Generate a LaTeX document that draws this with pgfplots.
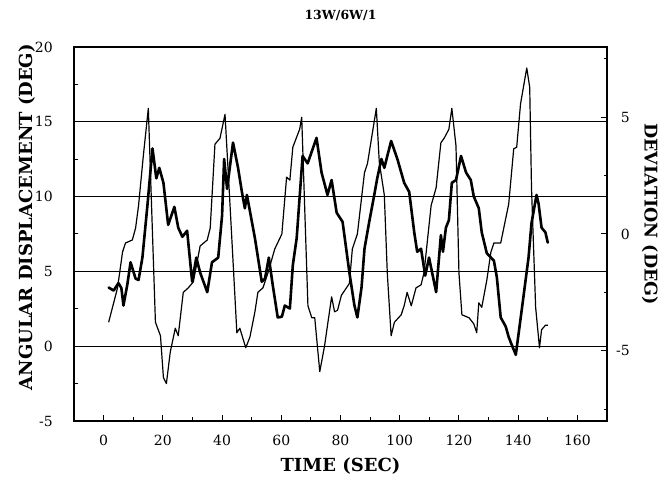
\documentclass[border=0pt]{standalone}
\usepackage{pgfplots}
\pgfplotsset{compat=1.18}
\usepackage{fontspec}
\setmainfont{DejaVu Serif}

\begin{document}
\begin{tikzpicture}
\useasboundingbox (-74pt,-66pt) rectangle (595pt,421pt);
\begin{axis}[
  at={(0,0)}, anchor=south west,
  scale only axis, width=533pt, height=374pt,
  xmin=-10, xmax=170, ymin=-5, ymax=20,
  xtick={0,20,...,160}, minor xtick={10,30,...,150},
  ytick={-5,0,...,20}, minor ytick={-2.5,2.5,...,17.5},
  tick align=inside, xtick pos=left, ytick pos=left,
  major tick length=6pt, minor tick length=3.5pt,
  ymajorgrids, grid style={black, line width=0.8pt},
  axis line style={line width=1.5pt},
  tick style={black, line width=1pt},
  /pgf/number format/assume math mode=true,
  tick label style={font=\fontsize{14}{16}\selectfont},
  yticklabel style={anchor=east, inner sep=0pt, xshift=-21pt},
  xticklabel style={anchor=center, inner sep=0pt, yshift=-19pt},
  title={13W/6W/1},
  every axis title/.style={at={(axis description cs:0.5,1.0856)}, anchor=center, font=\bfseries\fontsize{12.5}{14}\selectfont},
  xlabel={TIME (SEC)},
  every axis x label/.style={at={(axis description cs:0.5,-0.1203)}, anchor=center, font=\bfseries\fontsize{18}{20}\selectfont},
  ylabel={ANGULAR DISPLACEMENT (DEG)},
  every axis y label/.style={at={(axis description cs:-0.0882,0.545)}, anchor=center, rotate=90, font=\bfseries\fontsize{18}{20}\selectfont},
]
\addplot[black, line width=1.2pt, line join=round] coordinates {
(1.7,1.6) (3.4,2.9) (4.7,3.9) (6.4,6.3) (7.4,6.9) (9.7,7.1) (10.8,7.9) (11.8,9.4) (13.4,12.7) (15.1,15.9)
(17.5,1.6) (19.2,0.7) (20.2,-2.1) (21.2,-2.5) (22.5,-0.4) (24.2,1.2) (25.2,0.7) (26.9,3.6) (28.6,3.9) (30.3,4.3)
(32.6,6.7) (35.0,7.1) (36.0,7.9) (37.6,13.5) (39.3,13.9) (41.0,15.5) (42.7,9.4) (45.0,0.9) (46.0,1.2) (48.0,-0.1)
(49.4,0.6) (51.1,2.3) (52.1,3.6) (53.8,3.9) (55.5,4.9) (57.8,6.5) (60.2,7.5) (61.8,11.3) (62.9,11.1) (63.9,13.3)
(66.2,14.5) (66.9,15.3) (69.0,2.7) (70.3,1.9) (71.3,1.9) (73.0,-1.7) (74.6,0.0) (77.0,3.3) (78.0,2.3) (79.0,2.4)
(80.3,3.4) (82.0,3.9) (83.0,4.2) (84.0,6.5) (85.7,7.5) (88.1,11.6) (89.1,12.2) (92.1,15.9) (93.1,12.3) (94.8,10.1)
(95.8,4.9) (97.1,0.7) (98.2,1.6) (100.5,2.1) (101.5,2.7) (102.5,3.6) (103.9,2.7) (105.5,3.9) (107.2,4.1) (108.2,4.9)
(110.6,9.4) (112.3,10.6) (113.9,13.6) (115.0,13.9) (116.6,14.5) (117.6,15.9) (119.0,13.4) (120.0,4.9) (121.0,2.1) (123.4,1.9)
(125.0,1.5) (126.0,0.9) (126.7,2.9) (127.7,2.6) (129.4,4.4) (130.8,6.3) (131.8,6.9) (134.1,6.9) (136.8,9.5) (138.5,13.2)
(139.5,13.3) (140.8,16.2) (142.9,18.6) (143.9,17.3) (144.5,10.6) (145.9,2.6) (147.2,-0.1) (147.9,1.1) (149.2,1.4) (150.0,1.4)
};
\end{axis}
\begin{axis}[
  at={(0,0)}, anchor=south west,
  scale only axis, width=533pt, height=374pt,
  xmin=-10, xmax=170, ymin=-8, ymax=8,
  axis x line=none, axis y line*=right,
  ytick={-5,0,5}, minor ytick={-7.5,-2.5,2.5,7.5},
  tick align=inside,
  major tick length=6pt, minor tick length=3.5pt,
  axis line style={line width=1.5pt, -},
  tick style={black, line width=1pt},
  /pgf/number format/assume math mode=true,
  tick label style={font=\fontsize{14}{16}\selectfont},
  yticklabel style={anchor=east, inner sep=0pt, xshift=23pt},
  ylabel={DEVIATION (DEG)},
  every axis y label/.style={at={(axis description cs:1.0807,0.553)}, anchor=center, rotate=-90, font=\bfseries\fontsize{17.5}{20}\selectfont},
]
\addplot[black, line width=2.6pt, line join=round, line cap=round] coordinates {
(1.7,-2.29) (3.4,-2.42) (5.0,-2.10) (6.0,-2.31) (6.7,-3.06) (8.0,-2.17) (9.1,-1.21) (10.8,-1.91) (11.8,-1.97) (13.1,-1.01)
(14.8,1.23) (16.5,3.66) (17.1,3.08) (17.8,2.38) (18.8,2.83) (20.2,2.19) (21.8,0.39) (23.9,1.16) (25.2,0.27) (26.6,-0.12)
(28.2,0.14) (29.9,-2.04) (31.3,-1.01) (32.6,-1.65) (35.0,-2.49) (36.6,-1.21) (38.7,-1.01) (40.0,0.78) (40.7,3.21) (41.7,1.93)
(42.4,2.63) (43.7,3.91) (45.4,2.83) (46.7,1.80) (47.7,1.10) (48.4,1.67) (51.1,-0.18) (53.4,-2.04) (54.5,-1.91) (55.8,-1.01)
(57.1,-2.17) (58.8,-3.57) (60.2,-3.54) (61.2,-3.06) (62.9,-3.19) (63.9,-1.33) (65.2,-0.18) (67.2,3.34) (68.9,3.02) (71.9,4.11)
(73.6,2.63) (75.6,1.67) (77.0,2.31) (78.7,0.91) (80.7,0.52) (83.0,-1.65) (84.7,-3.06) (85.7,-3.57) (87.1,-2.29) (88.1,-0.63)
(89.7,0.52) (91.4,1.67) (92.4,2.38) (93.8,3.21) (94.8,2.83) (97.1,3.98) (99.2,3.21) (101.5,2.19) (103.2,1.80) (104.9,0.07)
(105.9,-0.76) (107.2,-0.63) (108.6,-1.78) (109.9,-1.01) (112.3,-2.49) (113.9,-0.05) (114.6,-0.76) (115.6,0.27) (116.6,0.59) (117.6,2.19)
(119.0,2.31) (120.7,3.34) (122.4,2.63) (124.0,2.31) (125.0,1.61) (126.7,1.10) (127.7,0.07) (129.4,-0.82) (131.8,-1.14) (132.8,-1.85)
(134.1,-3.57) (135.8,-3.96) (136.8,-4.41) (137.8,-4.73) (139.2,-5.17) (141.2,-3.25) (143.5,-1.01) (144.5,0.46) (146.2,1.67) (146.9,1.29)
(147.9,0.27) (149.2,0.07) (150.0,-0.37)
};
\end{axis}
\end{tikzpicture}
\end{document}
